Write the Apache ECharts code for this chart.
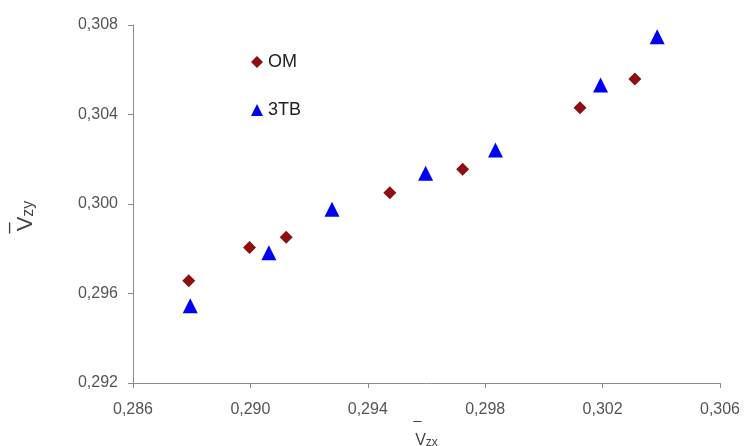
<!DOCTYPE html>
<html>
<head>
<meta charset="utf-8">
<script src="https://cdn.jsdelivr.net/npm/echarts@6/dist/echarts.min.js"></script>
<style>
  html, body { margin: 0; padding: 0; background: #fff; }
  #chart { width: 753px; height: 446px; }
</style>
</head>
<body>
<div id="chart"></div>
<script>
    // values
    var omX = [0.2879, 0.28997, 0.29122, 0.29475, 0.29723, 0.30123, 0.3031];
    var omY = [0.29657, 0.29806, 0.29851, 0.3005, 0.30155, 0.3043, 0.30559];
    var tbX = [0.28795, 0.29063, 0.29278, 0.29597, 0.29835, 0.30193, 0.30386];
    var tbY = [0.29545, 0.29782, 0.29976, 0.30137, 0.30241, 0.30532, 0.30748];
    var xTicks = [0.286, 0.290, 0.294, 0.298, 0.302, 0.306];
    var yTicks = [0.292, 0.296, 0.300, 0.304, 0.308];

    function pairs(xs, ys) {
        var out = [];
        for (var i = 0; i < xs.length; i++) {
            out.push([xs[i], ys[i]]);
        }
        return out;
    }

    function fmt(v) {
        return v.toFixed(3).replace('.', ',');
    }

    var font = 'Liberation Sans, Arial, sans-serif';
    var chart = echarts.init(document.getElementById('chart'));
    var axisCommon = {
        type: 'value',
        splitLine: { show: false },
        axisLine: { show: true, lineStyle: { color: '#8c8c8c', width: 1 } },
        axisTick: { show: true, length: 5, lineStyle: { color: '#8c8c8c' } },
        axisLabel: {
            color: '#555',
            fontFamily: font,
            fontSize: 16,
            formatter: fmt
        }
    };

    chart.setOption({
        animation: false,
        backgroundColor: '#fff',
        grid: { left: 133, right: 33, top: 25, bottom: 63, outerBoundsMode: 'none' },
        legend: {
            orient: 'vertical',
            left: 246,
            top: 48,
            itemGap: 30,
            itemWidth: 12,
            itemHeight: 12,
            textStyle: {
                color: '#222',
                fontSize: 18,
                fontFamily: font
            },
            data: ['OM', '3TB']
        },
        xAxis: Object.assign({}, axisCommon, {
            min: xTicks[0],
            max: xTicks[xTicks.length - 1],
            interval: 0.004,
            axisLabel: Object.assign({}, axisCommon.axisLabel, { margin: 19 }),
            name: '{bar|\u2013}\n{v|V}{s|zx}',
            nameLocation: 'middle',
            nameMoveOverlap: false,
            nameGap: 33,
            nameTextStyle: {
                rich: {
                    bar: { fontSize: 15, lineHeight: 10, color: '#444', fontFamily: font, padding: [0, 18, 0, 0] },
                    v: { fontSize: 16, lineHeight: 29, color: '#444', fontFamily: font },
                    s: { fontSize: 12, lineHeight: 29, color: '#444', fontFamily: font, padding: [5, 0, 0, 0] }
                }
            }
        }),
        yAxis: Object.assign({}, axisCommon, {
            min: yTicks[0],
            max: yTicks[yTicks.length - 1],
            interval: 0.004,
            axisLabel: Object.assign({}, axisCommon.axisLabel, { margin: 15 }),
            name: '{bar|\u2013}\n{v|V}{s|zy}',
            nameLocation: 'middle',
            nameRotate: 90,
            nameGap: 96,
            nameTextStyle: {
                padding: [0, 24, 0, 0],
                rich: {
                    bar: { fontSize: 20, lineHeight: 12, color: '#444', fontFamily: font, padding: [0, 24, 0, 0] },
                    v: { fontSize: 22, lineHeight: 22, color: '#444', fontFamily: font },
                    s: { fontSize: 16, lineHeight: 22, color: '#444', fontFamily: font, padding: [5, 0, 0, 0] }
                }
            }
        }),
        series: [
            {
                name: 'OM',
                type: 'scatter',
                symbol: 'diamond',
                symbolSize: 13,
                itemStyle: { color: '#8c1010', opacity: 1 },
                data: pairs(omX, omY)
            },
            {
                name: '3TB',
                type: 'scatter',
                symbol: 'triangle',
                symbolSize: 15,
                itemStyle: { color: '#0000f5', opacity: 1 },
                data: pairs(tbX, tbY)
            }
        ]
    });
</script>
</body>
</html>
